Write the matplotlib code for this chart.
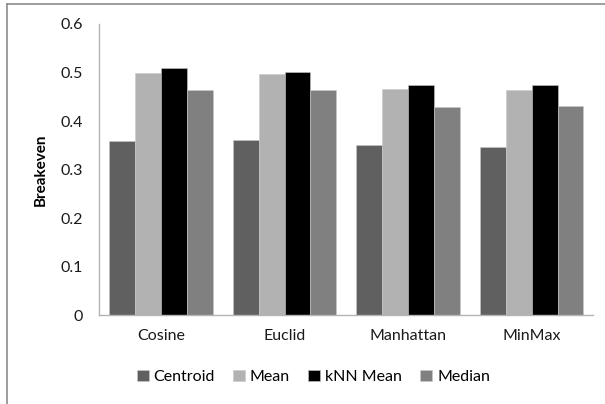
import numpy as np
import matplotlib
matplotlib.use('Agg')
import matplotlib.pyplot as plt
from matplotlib.lines import Line2D

plt.rcParams['font.family'] = ['Lato', 'DejaVu Sans']

# breakeven per distance measure and method
measures = ['Cosine', 'Euclid', 'Manhattan', 'MinMax']
centroid = [0.359, 0.361, 0.350, 0.347]
mean = [0.500, 0.498, 0.466, 0.464]
knn_mean = [0.509, 0.502, 0.474, 0.474]
median = [0.464, 0.464, 0.430, 0.432]

series = [('Centroid', centroid, '#606060'),
          ('Mean', mean, '#b2b2b2'),
          ('kNN Mean', knn_mean, '#000000'),
          ('Median', median, '#808080')]

fig = plt.figure(figsize=(6.05, 4.04), dpi=100)
ax = fig.add_axes([0.1641, 0.2196, 0.8166, 0.721])

x = np.arange(len(measures))
w = 0.21
for i, (name, vals, col) in enumerate(series):
    ax.bar(x + (i - 1.5) * w, vals, w, color=col, label=name,
           edgecolor='#c8c8c8', linewidth=0.4)

ax.set_xlim(-0.5, len(measures) - 0.5)
ax.set_ylim(0, 0.6)
ax.set_yticks(np.arange(0, 0.61, 0.1))
ax.set_yticklabels(['0', '0.1', '0.2', '0.3', '0.4', '0.5', '0.6'])
ax.set_xticks(x)
ax.set_xticklabels(measures)
ax.tick_params(axis='both', length=0, labelsize=11.5, colors='#1a1a1a')
ax.tick_params(axis='y', pad=12)
ax.tick_params(axis='x', pad=10)
ax.set_ylabel('Breakeven', fontsize=11, fontweight='bold', labelpad=9)

for s in ['top', 'right']:
    ax.spines[s].set_visible(False)
for s in ['left', 'bottom']:
    ax.spines[s].set_color('#b4b4b4')
    ax.spines[s].set_linewidth(1.0)

fig.legend(loc='center', bbox_to_anchor=(0.518, 0.067), ncol=4, frameon=False,
           fontsize=11.5, handlelength=0.75, handleheight=0.75,
           handletextpad=0.3, columnspacing=1.15)

# chart area frame (only top and left edges show)
fig.add_artist(Line2D([6.5 / 605, 1], [1 - 3.5 / 404, 1 - 3.5 / 404],
                      transform=fig.transFigure, color='#8c8c8c', lw=1.2))
fig.add_artist(Line2D([6.5 / 605, 6.5 / 605], [0, 1 - 3.5 / 404],
                      transform=fig.transFigure, color='#8c8c8c', lw=1.2))

fig.savefig('out.png', dpi=100)
